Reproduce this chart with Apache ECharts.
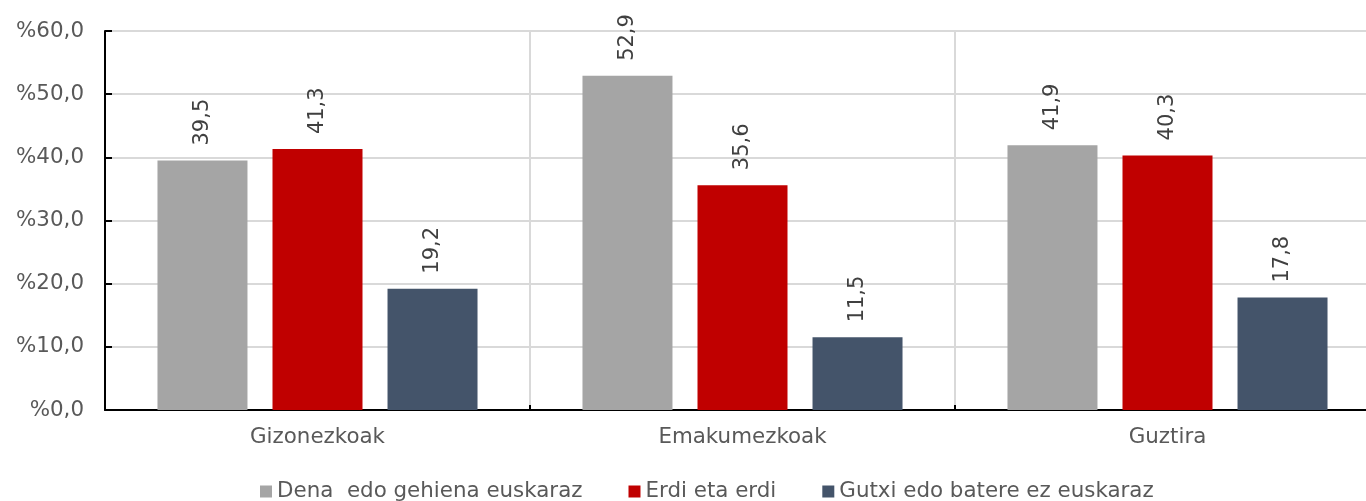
<!DOCTYPE html>
<html>
<head>
<meta charset="utf-8">
<script src="https://cdn.jsdelivr.net/npm/echarts@6/dist/echarts.min.js"></script>
<style>
  html, body { margin: 0; padding: 0; background: #fff; }
  #chart { width: 1366px; height: 501px; }
</style>
</head>
<body>
<div id="chart"></div>
<script>
const categories = ['Gizonezkoak', 'Emakumezkoak', 'Guztira']
const seriesNames = ['Dena  edo gehiena euskaraz', 'Erdi eta erdi', 'Gutxi edo batere ez euskaraz']
const denaValues = [39.5, 52.9, 41.9]
const erdiValues = [41.3, 35.6, 40.3]
const gutxiValues = [19.2, 11.5, 17.8]
const colors = ['#a5a5a5', '#c00000', '#44546a']

const font = 'DejaVu Sans, Verdana, sans-serif'
const fmt = v => v.toFixed(1).replace('.', ',')

const chart = echarts.init(document.getElementById('chart'))

// one bar series, values rotated above the bar
const makeSeries = (name, data, color) => ({
  name, type: 'bar', data, barWidth: 90, barGap: '27.8%',
  itemStyle: { color },
  label: {
    show: true, position: 'top', rotate: 90, align: 'left', verticalAlign: 'middle', distance: 15,
    color: '#404040', fontFamily: font, fontSize: 21,
    formatter: p => fmt(p.value),
  },
})

chart.setOption({
  animation: false,
  color: colors,
  grid: { left: 105, right: -14, top: 31, bottom: 91, outerBoundsMode: 'none' },
  legend: {
    left: 255, top: 476, icon: 'rect', itemWidth: 12, itemHeight: 12, itemGap: 46,
    textStyle: { color: '#595959', fontFamily: font, fontSize: 21.4 },
    data: seriesNames,
  },
  xAxis: {
    type: 'category', data: categories,
    axisLine: { lineStyle: { color: '#000', width: 2 } },
    axisTick: { show: true, inside: true, length: 5, lineStyle: { color: '#000', width: 2 } },
    splitLine: { show: true, lineStyle: { color: '#d9d9d9', width: 2 } },
    axisLabel: { color: '#595959', fontFamily: font, fontSize: 21.4, margin: 17 },
  },
  yAxis: {
    type: 'value', min: 0, max: 60, interval: 10,
    axisLine: { show: true, lineStyle: { color: '#000', width: 2 } },
    axisTick: { show: true, inside: true, length: 7, lineStyle: { color: '#000', width: 2 } },
    splitLine: { lineStyle: { color: '#d9d9d9', width: 2 } },
    axisLabel: { color: '#595959', fontFamily: font, fontSize: 21.4, margin: 21, formatter: v => '%' + fmt(v) },
  },
  series: [
    makeSeries(seriesNames[0], denaValues, colors[0]),
    makeSeries(seriesNames[1], erdiValues, colors[1]),
    makeSeries(seriesNames[2], gutxiValues, colors[2]),
  ],
})
</script>
</body>
</html>
